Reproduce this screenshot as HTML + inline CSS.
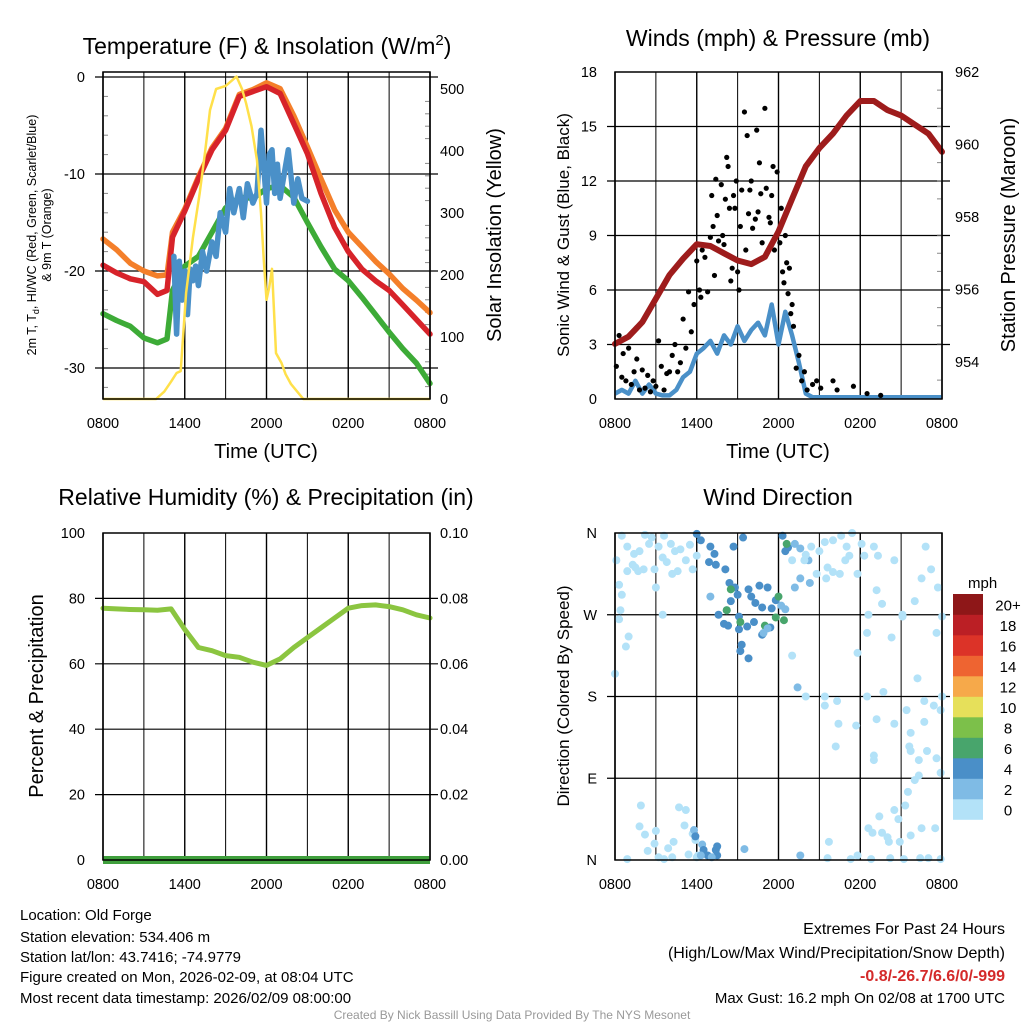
<!DOCTYPE html>
<html><head><meta charset="utf-8"><style>
html,body{margin:0;padding:0;background:#fff;}
svg{display:block;font-family:"Liberation Sans",Arial,sans-serif;}
</style></head><body>
<svg id="chart" width="1024" height="1024" viewBox="0 0 1024 1024" xmlns="http://www.w3.org/2000/svg">
<rect width="1024" height="1024" fill="#fff"/>
<g id="layer"></g>
<text x="267" y="54" font-size="23" text-anchor="middle">Temperature (F) &amp; Insolation (W/m<tspan dy="-9" font-size="15">2</tspan><tspan dy="9">)</tspan></text>
<text x="778" y="46" font-size="23" text-anchor="middle">Winds (mph) &amp; Pressure (mb)</text>
<text x="266" y="505" font-size="23" text-anchor="middle">Relative Humidity (%) &amp; Precipitation (in)</text>
<text x="778" y="505" font-size="23" text-anchor="middle">Wind Direction</text>
<text x="266" y="458" font-size="20" text-anchor="middle">Time (UTC)</text>
<text x="778" y="458" font-size="20" text-anchor="middle">Time (UTC)</text>
<text transform="translate(36,235) rotate(-90)" font-size="12.5" text-anchor="middle">2m T, T<tspan font-size="9" dy="3">d</tspan><tspan dy="-3">, HI/WC (Red, Green, Scarlet/Blue)</tspan></text>
<text transform="translate(51,235) rotate(-90)" font-size="12.5" text-anchor="middle">&amp; 9m T (Orange)</text>
<text transform="translate(501,235) rotate(-90)" font-size="20" text-anchor="middle">Solar Insolation (Yellow)</text>
<text transform="translate(569,235) rotate(-90)" font-size="17" text-anchor="middle">Sonic Wind &amp; Gust (Blue, Black)</text>
<text transform="translate(1015,235) rotate(-90)" font-size="20" text-anchor="middle">Station Pressure (Maroon)</text>
<text transform="translate(43,696) rotate(-90)" font-size="20" text-anchor="middle">Percent &amp; Precipitation</text>
<text transform="translate(569,696) rotate(-90)" font-size="17" text-anchor="middle">Direction (Colored By Speed)</text>
<text x="968" y="588" font-size="15" text-anchor="start">mph</text>
<g font-size="15">
<text x="20" y="920">Location: Old Forge</text>
<text x="20" y="942">Station elevation: 534.406 m</text>
<text x="20" y="962">Station lat/lon: 43.7416; -74.9779</text>
<text x="20" y="982">Figure created on Mon, 2026-02-09, at 08:04 UTC</text>
<text x="20" y="1003">Most recent data timestamp: 2026/02/09 08:00:00</text>
</g>
<g font-size="16" text-anchor="end">
<text x="1005" y="934">Extremes For Past 24 Hours</text>
<text x="1005" y="958">(High/Low/Max Wind/Precipitation/Snow Depth)</text>
<text x="1005" y="981" fill="#d42a2a" font-weight="bold">-0.8/-26.7/6.6/0/-999</text>
<text x="1005" y="1003" font-size="15">Max Gust: 16.2 mph On 02/08 at 1700 UTC</text>
</g>
<text x="512" y="1019" font-size="12" fill="#999" text-anchor="middle">Created By Nick Bassill Using Data Provided By The NYS Mesonet</text>
</svg>
<script>
// ---------- data ----------
const xTickLabels = ["0800","1400","2000","0200","0800"];
const tempTimes = [0,1,2,3,4,4.7,5.1,6,7,8,9,10,11,12,13,14,15,16,17,18,19,20,21,22,23,24];
const tempRed = [-19.4,-20.2,-20.8,-21.1,-22.4,-22.0,-16.5,-13.8,-10.5,-7.5,-5.5,-2.0,-1.5,-1.0,-1.7,-4.8,-7.9,-12.0,-15.5,-18.0,-19.8,-21.0,-22.0,-23.5,-25.0,-26.5];
const tempOrange = [-16.7,-17.8,-19.2,-20.0,-20.5,-20.4,-16.0,-13.6,-10.3,-7.3,-5.3,-1.8,-1.3,-0.6,-1.2,-4.0,-7.2,-10.5,-13.7,-16.0,-17.5,-19.0,-20.3,-21.8,-23.0,-24.3];
const dewGreen = [-24.4,-25.1,-25.7,-26.9,-27.4,-27.0,-22.0,-19.5,-18.5,-16.0,-13.5,-12.4,-12.5,-11.5,-11.2,-12.4,-15.0,-17.5,-19.8,-21.0,-22.7,-24.5,-26.3,-28.0,-29.5,-31.6];
const wcTimes = [5.2,5.4,5.6,5.8,6.0,6.2,6.4,6.6,6.8,7.0,7.3,7.6,8.0,8.3,8.6,9.0,9.3,9.6,10.0,10.3,10.6,11.0,11.3,11.6,12.0,12.2,12.4,12.6,12.8,13.0,13.3,13.6,14.0,14.3,14.6,15.0];
const wcBlue = [-18.5,-26.5,-19,-23,-20,-24.5,-19.8,-21,-19.5,-21.5,-18,-20,-17,-18.5,-14,-16,-11.5,-14,-11.5,-14.5,-11,-13,-12,-5.5,-13,-8,-7.5,-12,-9,-12.5,-10,-7.5,-13,-10.5,-12.5,-12.8];
const solarTimes = [0,3.9,4.5,5.0,5.4,5.7,6.1,6.6,7.1,7.5,7.85,8.3,9.0,9.8,10.2,10.5,10.9,11.3,11.6,11.8,12.0,12.2,12.4,12.7,13.1,13.4,13.8,14.7,24];
const solarValues = [0,0,12,28,42,45,171,260,332,400,466,500,505,520,500,477,440,385,300,224,160,180,210,74,58,40,24,0,0];
const hourly = [0,1,2,3,4,5,6,7,8,9,10,11,12,13,14,15,16,17,18,19,20,21,22,23,24];
const pressure = [954.5,954.7,955.1,955.75,956.4,956.85,957.25,957.2,957.0,956.8,956.7,956.9,957.6,958.5,959.4,959.9,960.3,960.8,961.2,961.2,960.95,960.8,960.55,960.3,959.8];
const rh = [77,76.8,76.6,76.5,76.4,76.8,70.5,65,64,62.5,62,60.5,59.5,61.5,65,68,71,74,77,77.8,78,77.5,76.5,75,74];
const precip = [0,0,0,0,0,0,0,0,0,0,0,0,0,0,0,0,0,0,0,0,0,0,0,0,0];
const windTimes = [0,0.5,1,1.5,2,2.5,3,3.5,4,4.5,5,5.5,6,6.5,7,7.5,8,8.5,9,9.5,10,10.5,11,11.5,12,12.5,13,13.5,14,14.5,15,15.5,16,16.5,17,17.5,18,18.5,19,19.5,20,20.5,21,21.5,22,22.5,23,23.5,24];
const windSpeed = [0.3,0.5,0.3,1.0,0.3,0.8,0.3,0.2,0.2,0.5,1.2,1.5,2.5,2.8,3.2,2.5,3.5,3.0,4.0,3.2,3.8,4.2,3.5,5.2,3.0,4.8,3.5,2.0,0.3,0.1,0.1,0.1,0.1,0.1,0.1,0.1,0.1,0.1,0.1,0.1,0.1,0.1,0.1,0.1,0.1,0.1,0.1,0.1,0.1];
const gustTimes = [0.1,0.3,0.5,0.6,0.8,1.0,1.2,1.4,1.6,1.8,2.0,2.2,2.4,2.6,2.8,3.0,3.2,3.4,3.6,3.8,4.0,4.2,4.4,4.6,4.8,5.0,5.2,5.4,5.6,5.8,6.0,6.2,6.4,6.6,6.8,7.0,7.1,7.2,7.4,7.5,7.6,7.8,7.9,8.0,8.1,8.2,8.3,8.4,8.6,8.7,8.8,8.9,9.0,9.1,9.2,9.3,9.5,9.6,9.7,9.8,9.9,10.0,10.1,10.3,10.4,10.5,10.6,10.7,10.8,11.0,11.1,11.3,11.4,11.5,11.6,11.7,11.9,12.1,12.2,12.3,12.4,12.5,12.6,12.7,12.8,12.9,13.0,13.1,13.3,13.5,13.7,13.9,14.1,14.5,14.8,15.1,16.0,16.3,17.5,18.5,19.5,6.3,7.3,8.5];
const gustValues = [1.8,3.5,1.2,2.5,1.0,2.8,0.8,1.5,2.2,0.5,1.6,0.6,1.3,0.4,1.0,0.7,3.2,1.8,0.5,1.4,1.5,2.4,3.0,1.5,2.0,4.4,2.8,5.9,3.7,5.2,7.6,6.0,8.2,7.8,5.9,8.9,11.2,9.5,12.1,10.1,8.7,11.8,9.0,8.5,11.0,13.3,12.8,10.5,7.2,11.2,10.5,12.0,7.0,6.0,9.5,11.5,15.8,8.2,14.5,10.2,11.5,12.0,9.4,9.9,14.8,10.3,13.0,11.3,8.6,16.0,11.6,10.0,9.7,11.2,12.8,8.2,12.5,8.6,10.5,7.0,6.4,9.0,7.5,5.8,7.2,4.7,5.2,4.0,1.7,2.4,1.0,1.5,0.5,0.8,1.0,0.6,1.0,0.5,0.7,0.3,0.2,5.6,6.8,6.5];
const dirObs = [
[0.1,330,1],[0.5,357,1],[0.9,345,1],[1.4,337,1],[1.8,340,1],[1.3,325,1],[2.7,355,1],[2.5,348,1],[3.2,345,1],[3.5,333,1],[2.9,320,1],[4.1,348,1],[4.4,340,1],[3.8,328,1],[4.6,318,1],[5.2,330,1],[5.7,320,1],[4.2,315,1],[3,300,1],[2.1,320,1],[1.7,318,1],[0.3,303,1],[0.5,292,1],[0.4,275,1],[0.3,265,1],[1.0,246,1],[0.8,235,1],[0.0,205,1],[3.5,270,1],[1.5,322,1],[2.2,358,1],[3.6,357,1],[5.5,347,1],[4.8,342,1],[0.9,318,1],[6.0,335,1],
[1.9,60,1],[1.8,37,1],[2.2,28,1],[2.4,10,1],[3.0,32,1],[3.2,3,1],[3.6,1,1],[3.9,13,1],[4.3,20,1],[4.7,58,1],[5.2,55,1],[5.1,38,1],[5.7,29,1],[5.4,6,1],[6.0,3,1],[4.2,3,1],[0.9,1,1],[2.9,18,1],[5.9,22,1],[6.1,5,1],
[5.8,33,3],[5.9,26,4],[6.4,17,3],[6.5,11,4],[6.8,5,4],[7.5,5,4],[7.4,11,4],[7.5,15,4],[7.1,3,3],[6.3,5,3],[9.5,12,3],[13.6,5,3],[13.4,190,3],
[6.0,359,4],[6.3,352,4],[7.0,345,4],[7.3,337,4],[6.9,328,4],[7.4,325,4],[8.1,320,4],[8.4,305,4],[8.8,300,4],[9.0,292,4],[8.5,285,4],[8.2,275,4],[9.1,268,4],[8.0,260,4],[8.3,258,4],[9.1,254,4],[10.2,262,4],[10.8,278,4],[10.3,283,4],[10.0,290,4],[9.8,298,4],[10.6,302,4],[11.2,300,4],[11.8,286,4],[11.5,277,4],[12.2,280,3],[12.5,276,3],[9.7,257,4],[10.8,248,4],[11.4,256,4],[9.3,237,4],[9.2,230,4],[9.8,222,4],[12.5,340,4],[12.3,357,4],[12.7,344,4],[13.2,348,3],[13.6,343,3],[14.2,330,3],[14.3,305,3],[13.6,310,3],[13.2,300,3],[8.7,345,4],[9.4,355,4],[7.6,270,4],[7.0,290,3],
[8.2,275,7],[8.5,298,7],[11.0,258,7],[12.0,290,7],[12.4,264,7],[11.8,267,7],[12.6,348,7],[9.2,262,6],
[11.2,255,3],[10.9,250,3],[14.8,315,1],[15.5,310,1],[13.9,330,1],[14.4,345,1],[15.0,340,1],[15.4,350,1],[16.0,352,1],[16.6,357,1],[17.4,360,1],[17.0,345,1],[18.1,348,1],[18.3,335,1],[19.0,345,1],[17.2,335,1],[16.5,315,1],[16.0,317,1],[15.6,322,1],[14.0,336,1],[13.0,330,1],
[13.0,225,1],[14.0,180,1],[15.4,180,1],[15.4,170,1],[16.3,175,1],[16.4,150,1],[17.7,148,1],[16.2,125,1],[19.2,155,1],[19.0,115,1],[19.0,110,1],[20.5,150,1],[21.4,165,1],[21.7,140,1],[21.6,125,1],[21.7,120,1],[22.7,175,1],[23.4,170,1],[22.7,152,1],[22.9,120,1],[22.3,110,1],[23.6,112,1],[21.5,75,1],[22.0,88,1],[22.3,93,1],[23.9,96,1],[21.3,60,1],[20.5,55,1],[20.8,45,1],[19.4,48,1],[18.6,35,1],[18.9,30,1],[19.6,30,1],[20.0,25,1],[20.1,20,1],[20.9,20,1],[21.7,27,1],[22.5,35,1],[23.5,35,1],[17.8,5,1],[18.8,1,1],[20.2,2,1],[21.2,1,1],[22.4,2,1],[23.0,2,1],[23.9,1,1],[17.3,1,1],[15.7,20,1],[15.6,2,1],
[22.2,200,1],[23.6,250,1],[24.0,268,1],[22.0,285,1],[21.1,270,1],[21.1,268,1],[20.3,245,1],[18.5,250,1],[18.6,270,1],[19.6,282,1],[19.2,297,1],[17.8,315,1],[19.3,335,1],[16.9,330,1],[20.5,330,1],[22.8,345,1],[23.7,300,1],[22.5,310,1],[23.2,320,1],[17.8,228,1],[19.7,185,1],[18.5,180,1],[24,180,1],[23.9,165,1]
];
const cbLabels = ["0","2","4","6","8","10","12","14","16","18","20+"];
const cbColors = ["#b3e2f8","#7fbbe5","#4a8fc8","#48a56c","#7cc04a","#e6e05a","#f6a94a","#ee6431","#dc3328","#bb1f25","#8e1718"];

// ---------- helpers ----------
const NS="http://www.w3.org/2000/svg";
const layer=document.getElementById('layer');
function mk(tag,attrs,parent){const e=document.createElementNS(NS,tag);for(const k in attrs)e.setAttribute(k,attrs[k]);(parent||layer).appendChild(e);return e;}
function panel(x0,x1,y0,y1){return {x0,x1,y0,y1,X:h=>x0+(x1-x0)*h/24};}
function lin(v0,v1,p0,p1){return v=>p0+(v-v0)*(p1-p0)/(v1-v0);}
function drawGrid(P,yTicksPx,name){
  const g=mk('g',{});
  
  
  for(let h=0;h<=24;h+=3){mk('line',{x1:P.X(h),x2:P.X(h),y1:P.y0,y2:P.y1,stroke:'#000','stroke-width':(h%6==0?1.4:1)},g);}
  yTicksPx.forEach(y=>mk('line',{x1:P.x0-8,x2:P.x1+8,y1:y,y2:y,stroke:'#000','stroke-width':1.2},g));
}
function drawFrame(P,name){
  const r=mk('rect',{x:P.x0,y:P.y0,width:P.x1-P.x0,height:P.y1-P.y0,fill:'none',stroke:'#000','stroke-width':1.5});
  
  
  const g=mk('g',{'font-size':14.5,'text-anchor':'middle'});
  
  
  xTickLabels.forEach((t,i)=>{const tx=mk('text',{x:P.X(i*6),y:P.y1+29},g);tx.textContent=t;});
}
function yLabels(vals,fmt,Y,x,anchor,name){
  const g=mk('g',{'font-size':14.5,'text-anchor':anchor});
  
  
  vals.forEach(v=>{const t=mk('text',{x:x,y:Y(v)+5},g);t.textContent=fmt(v);});
}
function minorTicks(P,vals,Y,side){
  vals.forEach(v=>{const y=Y(v);const x=side=='l'?P.x0:P.x1;mk('line',{x1:x,x2:side=='l'?x+5:x-5,y1:y,y2:y,stroke:'#888','stroke-width':1});});
}
function path(xs,ys,X,Y){return xs.map((h,i)=>(i?'L':'M')+X(h).toFixed(1)+','+Y(ys[i]).toFixed(1)).join('');}

// ---------- panel 1: temperature ----------
const P1=panel(103,430,72,399);
const T1=lin(0,-30,77,368);
const S1=lin(0,500,399,89);
drawGrid(P1,[-30,-20,-10,0].map(T1),'temperature');
minorTicks(P1,[0,100,200,300,400,500].flatMap(v=>[v+20,v+40,v+60,v+80]).filter(v=>v<520),S1,'r');
minorTicks(P1,[-32,-28,-26,-24,-22,-18,-16,-14,-12,-8,-6,-4,-2],T1,'l');
[[tempOrange,'#f47f2a','orange-9m-temp-line'],[dewGreen,'#3dab37','green-dewpoint-line'],[tempRed,'#d7232a','red-2m-temp-line']].forEach(([d,c,n])=>{
  const p=mk('path',{d:path(tempTimes,d,P1.X,T1),fill:'none',stroke:c,'stroke-width':5.5,'stroke-linejoin':'round','stroke-linecap':'round'});
  
  
});
{const p=mk('path',{d:path(wcTimes,wcBlue,P1.X,T1),fill:'none',stroke:'#4a90c8','stroke-width':5.5,'stroke-linejoin':'round','stroke-linecap':'round'});

}
{const p=mk('path',{d:path(solarTimes,solarValues,P1.X,S1),fill:'none',stroke:'#ffe04a','stroke-width':2.5,'stroke-linejoin':'round'});

}
drawFrame(P1,'temperature');
yLabels([0,-10,-20,-30],v=>String(v),T1,85,'end','temperature-y-tick-labels');
yLabels([0,100,200,300,400,500],v=>String(v),S1,440,'start','solar-y-tick-labels');

// ---------- panel 2: winds ----------
const P2=panel(615,942,72,399);
const W2=lin(0,18,399,72);
const PR=lin(954,962,362,72);
drawGrid(P2,[3,6,9,12,15].map(W2),'wind');
minorTicks(P2,[953.5,954.5,955,955.5,956.5,957,957.5,958.5,959,959.5,960.5,961,961.5],PR,'r');
{const p=mk('path',{d:path(windTimes,windSpeed,P2.X,W2),fill:'none',stroke:'#4a90c8','stroke-width':4.5,'stroke-linejoin':'round'});

}
{const g=mk('g',{fill:'#000'});


gustTimes.forEach((h,i)=>mk('circle',{cx:P2.X(h),cy:W2(gustValues[i]),r:2.6},g));}
{const p=mk('path',{d:path(hourly,pressure,P2.X,PR),fill:'none',stroke:'#9e1c1c','stroke-width':6,'stroke-linejoin':'round','stroke-linecap':'round'});

}
drawFrame(P2,'wind');
yLabels([0,3,6,9,12,15,18],v=>String(v),W2,597,'end','wind-y-tick-labels');
yLabels([954,956,958,960,962],v=>String(v),PR,955,'start','pressure-y-tick-labels');

// ---------- panel 3: humidity ----------
const P3=panel(103,430,533,860);
const R3=lin(0,100,860,533);
const PC=lin(0,0.1,860,533);
drawGrid(P3,[20,40,60,80].map(R3),'humidity');
{const p=mk('path',{d:path(hourly,rh,P3.X,R3),fill:'none',stroke:'#8bc540','stroke-width':5,'stroke-linejoin':'round','stroke-linecap':'round'});

}
{const p=mk('path',{d:path(hourly,precip,P3.X,PC),fill:'none',stroke:'#3f9f3c','stroke-width':8});

}
drawFrame(P3,'humidity');
yLabels([0,20,40,60,80,100],v=>String(v),R3,85,'end','humidity-y-tick-labels');
yLabels([0,0.02,0.04,0.06,0.08,0.10],v=>v.toFixed(2),PC,440,'start','precip-y-tick-labels');

// ---------- panel 4: direction ----------
const P4=panel(615,942,533,860);
const D4=lin(0,360,860,533);
drawGrid(P4,[90,180,270].map(D4),'direction');
function spdColor(s){return cbColors[Math.min(10,Math.floor(s/2))];}
{const g=mk('g',{});


dirObs.forEach(o=>mk('circle',{cx:P4.X(o[0]),cy:D4(o[1]),r:4,fill:spdColor(o[2])},g));}
drawFrame(P4,'direction');
yLabels([0,90,180,270,360],v=>["N","E","S","W","N"][v/90],D4,597,'end','direction-y-tick-labels');
// colorbar
{const g=mk('g',{});


const top=594,bh=20.5;
cbColors.forEach((c,i)=>{const y=top+(10-i)*bh;mk('rect',{x:953,y:y,width:30,height:bh+0.3,fill:c},g);
const t=mk('text',{x:1008,y:y+bh/2+6,'font-size':15,'text-anchor':'middle'},g);t.textContent=cbLabels[i];});}
</script>
</body></html>
